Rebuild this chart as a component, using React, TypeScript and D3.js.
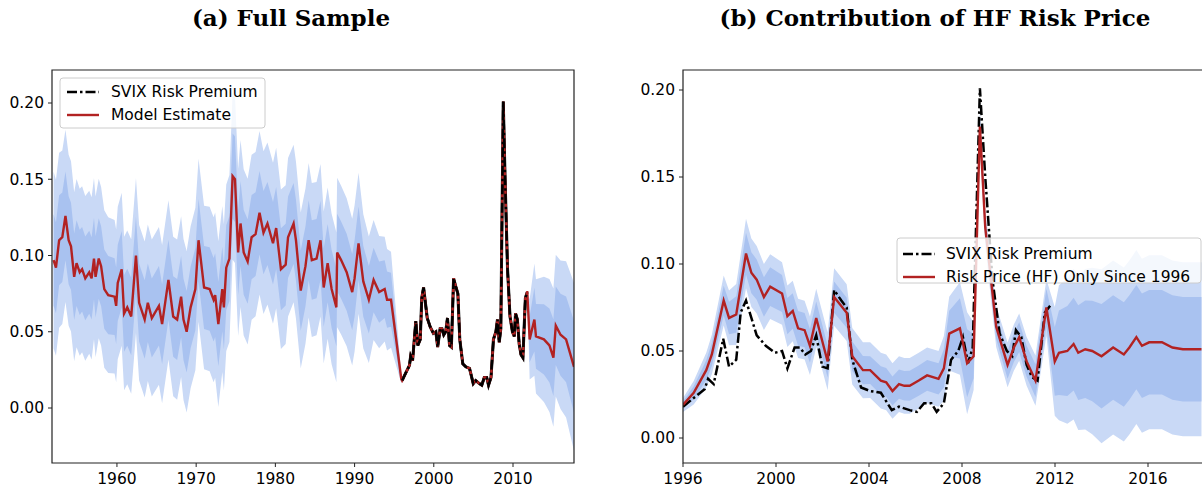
import * as d3 from "d3";

// ---------- data ----------
// (a) model estimate, full sample [year, value]
const modelYears = [1952.0,1952.3,1952.7,1953.1,1953.5,1953.9,1954.2,1954.6,1954.9,1955.3,1955.6,1956.0,1956.5,1956.8,1957.1,1957.3,1957.7,1958.0,1958.4,1958.9,1959.7,1959.9,1960.1,1960.6,1960.9,1961.3,1961.8,1962.4,1962.8,1963.5,1963.9,1964.4,1965.3,1965.7,1966.5,1967.1,1967.6,1968.1,1968.4,1968.8,1969.3,1969.9,1970.3,1971.0,1971.7,1972.2,1972.4,1972.8,1973.3,1973.5,1973.8,1974.2,1974.6,1974.9,1975.3,1975.6,1976.0,1976.5,1977.0,1977.5,1978.0,1978.5,1979.0,1979.7,1980.1,1980.7,1981.3,1981.6,1982.3,1982.6,1983.2,1983.8,1984.2,1984.6,1985.2,1985.7,1986.1,1986.6,1987.1,1987.7,1987.8,1988.3,1989.0,1989.7,1990.0,1990.5,1991.1,1991.8,1992.4,1993.1,1993.8,1994.1,1994.6,1995.9];
const modelVals = [0.097,0.092,0.110,0.112,0.126,0.110,0.106,0.086,0.095,0.089,0.091,0.085,0.089,0.085,0.098,0.086,0.098,0.093,0.078,0.074,0.073,0.067,0.082,0.091,0.062,0.066,0.060,0.100,0.069,0.058,0.069,0.059,0.067,0.055,0.084,0.060,0.058,0.073,0.058,0.050,0.066,0.078,0.110,0.079,0.078,0.071,0.074,0.055,0.078,0.066,0.092,0.098,0.152,0.150,0.102,0.121,0.102,0.096,0.112,0.114,0.128,0.115,0.121,0.108,0.118,0.091,0.094,0.112,0.121,0.110,0.077,0.093,0.110,0.097,0.098,0.110,0.079,0.095,0.078,0.066,0.102,0.097,0.089,0.076,0.085,0.108,0.083,0.071,0.084,0.076,0.078,0.071,0.071,0.019];
const modelLateYears = [2011.8,2012.1,2012.7,2012.9,2013.9,2014.6,2015.1,2015.4,2016.0,2016.7,2017.2,2017.7];
const modelLateVals = [0.076,0.045,0.058,0.047,0.045,0.041,0.033,0.054,0.048,0.045,0.036,0.027];

// SVIX risk premium 1996-2012
const svixYears = [1996.0,1996.46,1996.93,1997.08,1997.32,1997.73,1997.98,1998.29,1998.48,1998.71,1999.17,1999.56,1999.95,2000.26,2000.49,2000.8,2001.03,2001.26,2001.5,2001.73,2001.99,2002.22,2002.5,2002.81,2003.04,2003.28,2003.66,2004.05,2004.51,2004.98,2005.29,2005.75,2006.06,2006.37,2006.68,2006.91,2007.22,2007.53,2007.84,2008.04,2008.26,2008.46,2008.77,2009.0,2009.31,2009.62,2009.93,2010.16,2010.32,2010.55,2010.78,2011.01,2011.25,2011.56,2011.79];
const svixVals = [0.018,0.023,0.028,0.034,0.031,0.057,0.041,0.045,0.072,0.079,0.059,0.053,0.049,0.050,0.040,0.052,0.052,0.048,0.050,0.059,0.041,0.040,0.085,0.079,0.075,0.045,0.029,0.027,0.026,0.016,0.018,0.016,0.015,0.020,0.020,0.015,0.020,0.045,0.050,0.058,0.043,0.052,0.201,0.150,0.091,0.060,0.050,0.047,0.062,0.058,0.042,0.035,0.033,0.072,0.076];

// (b) risk price (HF) only since 1996
const hfYears = [1996.0,1996.46,1997.0,1997.24,1997.75,1997.98,1998.29,1998.71,1998.94,1999.17,1999.48,1999.75,2000.26,2000.49,2000.72,2000.95,2001.23,2001.46,2001.73,2002.22,2002.5,2003.04,2003.28,2003.74,2004.05,2004.51,2004.74,2005.01,2005.29,2005.52,2005.75,2006.14,2006.5,2006.99,2007.22,2007.45,2007.91,2008.22,2008.5,2008.77,2009.0,2009.47,2009.96,2010.23,2010.46,2010.78,2011.16,2011.63,2011.99,2012.17,2012.53,2012.8,2013.0,2013.3,2013.6,2014.0,2014.5,2014.96,2015.2,2015.5,2015.74,2016.05,2016.6,2017.05,2017.5,2018.3];
const hfVals = [0.019,0.026,0.039,0.048,0.079,0.069,0.071,0.106,0.095,0.091,0.081,0.087,0.083,0.070,0.073,0.063,0.062,0.053,0.069,0.044,0.081,0.072,0.047,0.039,0.039,0.033,0.032,0.027,0.031,0.030,0.030,0.033,0.036,0.034,0.040,0.060,0.063,0.043,0.047,0.179,0.121,0.064,0.042,0.052,0.058,0.044,0.033,0.075,0.044,0.049,0.050,0.054,0.049,0.051,0.050,0.047,0.052,0.048,0.052,0.058,0.053,0.055,0.055,0.052,0.051,0.051];

// band half-widths (inner / outer) read at knot years
const bandAYears = [1952, 1960, 1975, 1990, 1995, 1996, 2011.8, 2012.2, 2015, 2017.7];
const bandAInner = [0.03, 0.025, 0.028, 0.025, 0.017, 0.0, 0.0, 0.02, 0.025, 0.03];
const bandAOuter = [0.058, 0.05, 0.055, 0.048, 0.03, 0.0, 0.0, 0.035, 0.045, 0.055];
const bandBYears = [1996, 1998.7, 2001, 2004, 2007, 2008.2, 2008.77, 2010, 2011.6, 2012.2, 2014, 2018.3];
const bandBInner = [0.002, 0.012, 0.01, 0.008, 0.009, 0.02, 0.006, 0.008, 0.01, 0.025, 0.03, 0.03];
const bandBOuter = [0.004, 0.02, 0.017, 0.016, 0.016, 0.03, 0.01, 0.013, 0.015, 0.04, 0.05, 0.05];

const yTicks = [0, 0.05, 0.1, 0.15, 0.2];
const xTicksA = [1960, 1970, 1980, 1990, 2000, 2010];
const xTicksB = [1996, 2000, 2004, 2008, 2012, 2016];

// ---------- style ----------
const OUTER = "#c9d9f6";
const INNER = "#a9c2f0";
const RED = "#b22222";
const FONT = "DejaVu Sans";
const FS = 15.5;

type Pt = [number, number];
const zip = (xs: number[], ys: number[]): Pt[] => xs.map((x, i) => [x, ys[i]]);

function withBand(pts: Pt[], ky: number[], inner: number[], outer: number[]) {
  const wi = d3.scaleLinear(ky, inner).clamp(true);
  const wo = d3.scaleLinear(ky, outer).clamp(true);
  return pts.map(([x, v]) => ({ x, v, wi: wi(x), wo: wo(x) }));
}

function Panel(props: {
  left: number; right: number; top: number; bottom: number;
  xDom: [number, number]; y0: number; y20: number; xTicks: number[];
  title: string; titleX: number; children: (x: any, y: any) => React.ReactNode;
  frameRight: boolean;
}) {
  const { left, right, top, bottom, xDom, y0, y20, xTicks } = props;
  const x = d3.scaleLinear().domain(xDom).range([left, right]);
  const y = d3.scaleLinear().domain([0, 0.2]).range([y0, y20]);
  return (
    <g>
      <text x={props.titleX} y={26} textAnchor="middle" fontFamily="DejaVu Serif" fontWeight="bold" fontSize={23}>{props.title}</text>
      {props.children(x, y)}
      <path d={`M${right},${top}H${left}V${bottom}H${right}` + (props.frameRight ? "Z" : "")} fill="none" stroke="#222" strokeWidth={1.2} />
      {yTicks.map(t => (
        <g key={t}>
          <line x1={left - 4} x2={left} y1={y(t)} y2={y(t)} stroke="#222" />
          <text x={left - 8} y={y(t)} dy="0.35em" textAnchor="end" fontFamily={FONT} fontSize={FS}>{t.toFixed(2)}</text>
        </g>
      ))}
      {xTicks.map(t => (
        <g key={t}>
          <line x1={x(t)} x2={x(t)} y1={bottom} y2={bottom + 4} stroke="#222" />
          <text x={x(t)} y={bottom + 21} textAnchor="middle" fontFamily={FONT} fontSize={FS}>{t}</text>
        </g>
      ))}
    </g>
  );
}

function Bands({ x, y, data, clipId }: any) {
  const outer = d3.area<any>().x(d => x(d.x)).y0(d => y(d.v - d.wo)).y1(d => y(d.v + d.wo));
  const inner = d3.area<any>().x(d => x(d.x)).y0(d => y(d.v - d.wi)).y1(d => y(d.v + d.wi));
  return (
    <g clipPath={`url(#${clipId})`}>
      <path d={outer(data)!} fill={OUTER} />
      <path d={inner(data)!} fill={INNER} />
    </g>
  );
}

const DASH = "10,3,2.5,3";

export default function App() {
  const line = (x: any, y: any) => d3.line<Pt>().x(d => x(d[0])).y(d => y(d[1]));
  const svix = zip(svixYears, svixVals);
  const fullModel = [...zip(modelYears, modelVals), ...svix, ...zip(modelLateYears, modelLateVals)];
  const bandA = withBand(fullModel, bandAYears, bandAInner, bandAOuter);
  const hf = zip(hfYears, hfVals);
  const bandB = withBand(hf, bandBYears, bandBInner, bandBOuter);

  return (
    <svg width={1202} height={491} style={{ position: "absolute", left: 0, top: 0, background: "#fff" }}>
      <defs>
        <clipPath id="ca"><rect x={52} y={70} width={522} height={393} /></clipPath>
        <clipPath id="cb"><rect x={683} y={70} width={600} height={393} /></clipPath>
      </defs>
      <Panel left={52} right={574} top={70} bottom={463} xDom={[1951.8, 2017.7]} y0={408} y20={103}
        xTicks={xTicksA} title="(a) Full Sample" titleX={291} frameRight={true}>
        {(x, y) => (
          <g>
            <Bands x={x} y={y} data={bandA} clipId="ca" />
            <g clipPath="url(#ca)">
              <path d={line(x, y)(svix)!} fill="none" stroke="#000" strokeWidth={3} />
              <path d={line(x, y)(fullModel)!} fill="none" stroke={RED} strokeWidth={2.4} />
              <path d={line(x, y)(svix)!} fill="none" stroke="#000" strokeWidth={2.5} strokeDasharray={DASH} />
            </g>
            <rect x={60} y={78} width={205} height={50} rx={3} fill="#fff" fillOpacity={0.8} stroke="#ccc" />
            <line x1={67} x2={99} y1={92} y2={92} stroke="#000" strokeWidth={2.5} strokeDasharray={DASH} />
            <text x={111} y={92} dy="0.35em" fontFamily={FONT} fontSize={FS}>SVIX Risk Premium</text>
            <line x1={67} x2={99} y1={115} y2={115} stroke={RED} strokeWidth={2.4} />
            <text x={111} y={115} dy="0.35em" fontFamily={FONT} fontSize={FS}>Model Estimate</text>
          </g>
        )}
      </Panel>
      <Panel left={683} right={1240} top={70} bottom={463} xDom={[1996, 1996 + 557 / 23.25]} y0={438} y20={90}
        xTicks={xTicksB} title="(b) Contribution of HF Risk Price" titleX={935} frameRight={false}>
        {(x, y) => (
          <g>
            <Bands x={x} y={y} data={bandB} clipId="cb" />
            <g clipPath="url(#cb)">
              <path d={line(x, y)(svix)!} fill="none" stroke="#000" strokeWidth={2.5} strokeDasharray={DASH} />
              <path d={line(x, y)(hf)!} fill="none" stroke={RED} strokeWidth={2.4} />
            </g>
            <rect x={897} y={238} width={304} height={45} rx={3} fill="#fff" fillOpacity={0.8} stroke="#ccc" />
            <line x1={903} x2={935} y1={254} y2={254} stroke="#000" strokeWidth={2.5} strokeDasharray={DASH} />
            <text x={946} y={254} dy="0.35em" fontFamily={FONT} fontSize={FS}>SVIX Risk Premium</text>
            <line x1={903} x2={935} y1={277} y2={277} stroke={RED} strokeWidth={2.4} />
            <text x={946} y={277} dy="0.35em" fontFamily={FONT} fontSize={FS}>Risk Price (HF) Only Since 1996</text>
          </g>
        )}
      </Panel>
    </svg>
  );
}
